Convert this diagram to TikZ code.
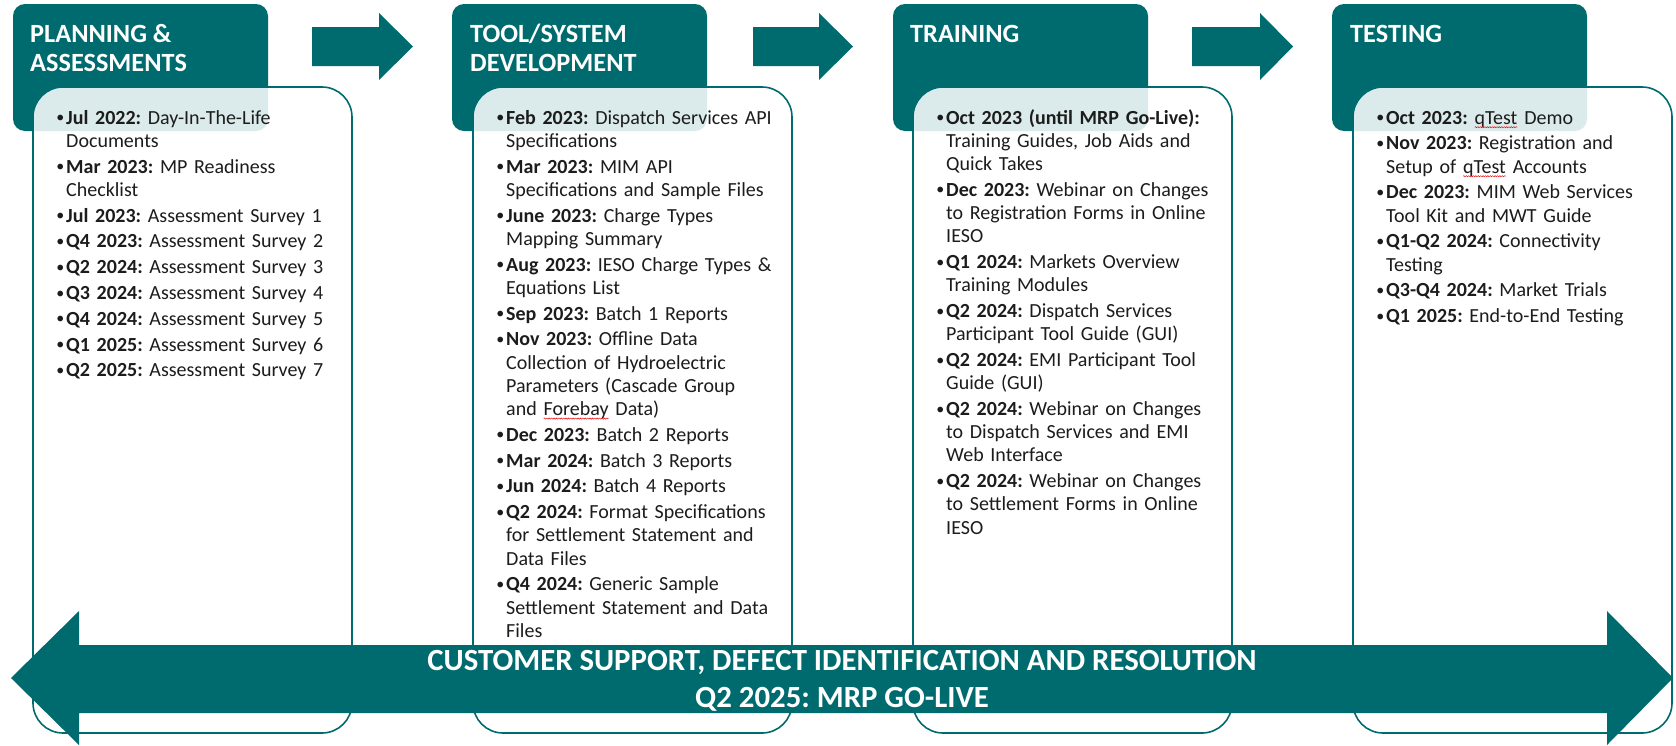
\documentclass[tikz,border=0pt]{standalone}
\usepackage{fontspec}
\setmainfont{Carlito}
\usetikzlibrary{decorations.pathmorphing}
\definecolor{tealc}{HTML}{006B6E}
\definecolor{txt}{HTML}{1C1C1C}
\frenchspacing
\newcommand\itm[2]{\makebox[9pt][l]{\hspace{-0.8pt}\raisebox{1.3pt}{\fontsize{16}{16}\selectfont •}}\textbf{#1}#2}
\newcommand\nl{\\\hspace*{9pt}}
\newcommand\nb{\\[2.6pt]}
\newcommand\sqw[1]{\tikz[baseline=(sw.base)]{\node[inner sep=0pt,outer sep=0pt,text width=,align=none] (sw) {#1};\draw[red!90!black,line width=0.45pt,decorate,decoration={snake,amplitude=0.6pt,segment length=2.4pt}] ([yshift=-3.2pt]sw.base west) -- ([yshift=-3.2pt]sw.base east);}}
\begin{document}
\begin{tikzpicture}[x=1pt,y=-1pt,
  hdr/.style={fill=tealc,rounded corners=12pt,inner sep=0pt,outer sep=0pt,minimum width=255pt,minimum height=127pt,anchor=north west},
  cbox/.style={draw=tealc,line width=1.6pt,fill=white,fill opacity=0.86,draw opacity=1,rounded corners=30pt,inner sep=0pt,outer sep=0pt,minimum width=319pt,minimum height=646pt,anchor=north west},
  htxt/.style={text=white,font=\fontsize{26.3}{29}\selectfont\bfseries,inner sep=0pt,anchor=base west},
  ctxt/.style={text=txt,font=\fontsize{20}{23.2}\selectfont,inner sep=0pt,anchor=base west,text width=330pt,align=left},
  arr/.style={fill=tealc},
  atxt/.style={text=white,font=\fontsize{30.8}{37}\selectfont\bfseries,inner sep=0pt,anchor=base}]
\useasboundingbox (0,0) rectangle (1676,745);
% headers
\node[hdr] (h1) at (13,4) {};
\node[hdr] (h2) at (452,4) {};
\node[hdr] (h3) at (893,4) {};
\node[hdr] (h4) at (1332,4) {};
\node[htxt] (h1a) at (30,42) {PLANNING \&};
\node[htxt] (h1b) at (30,71) {ASSESSMENTS};
\node[htxt] (h2a) at (470,42) {TOOL/SYSTEM};
\node[htxt] (h2b) at (470,71) {DEVELOPMENT};
\node[htxt] (h3a) at (910,42) {TRAINING};
\node[htxt] (h4a) at (1350,42) {TESTING};
% content boxes
\node[cbox] (c1) at (33,87) {};
\node[cbox] (c2) at (473,87) {};
\node[cbox] (c3) at (913,87) {};
\node[cbox] (c4) at (1353,87) {};
% column texts
\node[ctxt] (t1) at (57,124) {%
\itm{Jul 2022:}{ Day-In-The-Life}\nl Documents\nb
\itm{Mar 2023:}{ MP Readiness}\nl Checklist\nb
\itm{Jul 2023:}{ Assessment Survey 1}\nb
\itm{Q4 2023:}{ Assessment Survey 2}\nb
\itm{Q2 2024:}{ Assessment Survey 3}\nb
\itm{Q3 2024:}{ Assessment Survey 4}\nb
\itm{Q4 2024:}{ Assessment Survey 5}\nb
\itm{Q1 2025:}{ Assessment Survey 6}\nb
\itm{Q2 2025:}{ Assessment Survey 7}};
\node[ctxt] (t2) at (497,124) {%
\itm{Feb 2023:}{ Dispatch Services API}\nl Specifications\nb
\itm{Mar 2023:}{ MIM API}\nl Specifications and Sample Files\nb
\itm{June 2023:}{ Charge Types}\nl Mapping Summary\nb
\itm{Aug 2023:}{ IESO Charge Types \&}\nl Equations List\nb
\itm{Sep 2023:}{ Batch 1 Reports}\nb
\itm{Nov 2023:}{ Offline Data}\nl Collection of Hydroelectric\nl Parameters (Cascade Group\nl and \sqw{Forebay} Data)\nb
\itm{Dec 2023:}{ Batch 2 Reports}\nb
\itm{Mar 2024:}{ Batch 3 Reports}\nb
\itm{Jun 2024:}{ Batch 4 Reports}\nb
\itm{Q2 2024:}{ Format Specifications}\nl for Settlement Statement and\nl Data Files\nb
\itm{Q4 2024:}{ Generic Sample}\nl Settlement Statement and Data\nl Files};
\node[ctxt] (t3) at (937,124) {%
\itm{Oct 2023 (until MRP Go-Live):}{}\nl Training Guides, Job Aids and\nl Quick Takes\nb
\itm{Dec 2023:}{ Webinar on Changes}\nl to Registration Forms in Online\nl IESO\nb
\itm{Q1 2024:}{ Markets Overview}\nl Training Modules\nb
\itm{Q2 2024:}{ Dispatch Services}\nl Participant Tool Guide (GUI)\nb
\itm{Q2 2024:}{ EMI Participant Tool}\nl Guide (GUI)\nb
\itm{Q2 2024:}{ Webinar on Changes}\nl to Dispatch Services and EMI\nl Web Interface\nb
\itm{Q2 2024:}{ Webinar on Changes}\nl to Settlement Forms in Online\nl IESO};
\node[ctxt] (t4) at (1377,124) {%
\itm{Oct 2023:}{ \sqw{qTest} Demo}\nb
\itm{Nov 2023:}{ Registration and}\nl Setup of \sqw{qTest} Accounts\nb
\itm{Dec 2023:}{ MIM Web Services}\nl Tool Kit and MWT Guide\nb
\itm{Q1-Q2 2024:}{ Connectivity}\nl Testing\nb
\itm{Q3-Q4 2024:}{ Market Trials}\nb
\itm{Q1 2025:}{ End-to-End Testing}};
% step arrows
\fill[arr] (312,27) -- (379,27) -- (379,13) -- (413,46.5) -- (379,80) -- (379,66) -- (312,66) -- cycle;
\fill[arr] (753,27) -- (819,27) -- (819,13) -- (853,46.5) -- (819,80) -- (819,66) -- (753,66) -- cycle;
\fill[arr] (1192,27) -- (1260,27) -- (1260,13) -- (1293,46.5) -- (1260,80) -- (1260,66) -- (1192,66) -- cycle;
% big double arrow
\fill[arr] (11,678) -- (79,611) -- (79,645) -- (1607,645) -- (1607,611) -- (1673,678) -- (1607,745) -- (1607,713) -- (79,713) -- (79,745) -- cycle;
\node[atxt] (b1) at (842,670) {CUSTOMER SUPPORT, DEFECT IDENTIFICATION AND RESOLUTION};
\node[atxt] (b2) at (842,707) {Q2 2025: MRP GO-LIVE};
\end{tikzpicture}
\end{document}
